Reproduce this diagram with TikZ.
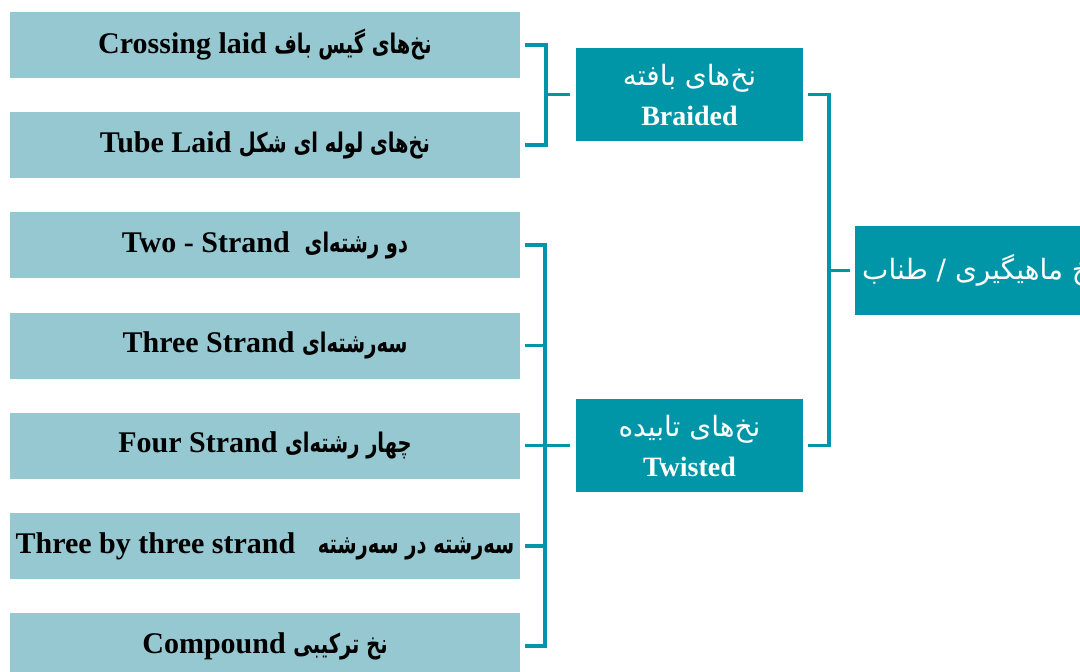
\documentclass[tikz,border=0pt]{standalone}
\usepackage{fontspec}
\setmainfont{Liberation Serif}
\newfontfamily\arabicfont[Script=Arabic]{DejaVu Sans}
\newfontfamily\arabicnarrow[Script=Arabic,FakeStretch=0.72]{DejaVu Sans}
\TeXXeTstate=1
\definecolor{tealbox}{RGB}{0,150,167}
\definecolor{lightbox}{RGB}{150,200,209}
\newcommand{\fa}[1]{{\arabicfont\beginR #1\endR}}
\newcommand{\fanarrow}[1]{{\arabicnarrow\fontsize{27}{30}\selectfont\beginR #1\endR}}

\begin{document}
\begin{tikzpicture}[x=1pt,y=-1pt,
	kind/.style={fill=lightbox,minimum width=510pt,minimum height=66pt,inner sep=0pt,font=\fontsize{30}{36}\selectfont\bfseries},
	group/.style={fill=tealbox,text=white,minimum width=227pt,minimum height=93pt,inner sep=0pt,align=center,font=\fontsize{28}{40}\selectfont},
	link/.style={draw=tealbox,line width=3.5pt}]
			\useasboundingbox (0,0) rectangle (1080,672);
			\node [kind] (crossing) at (265,45) {Crossing laid \fanarrow{نخ‌های گیس باف}};
			\node [kind] (tube) at (265,145) {Tube Laid \fanarrow{نخ‌های لوله ای شکل}};
			\node [kind] (two) at (265,245) {Two - Strand~~\fanarrow{دو رشته‌ای}};
			\node [kind] (three) at (265,345.5) {Three Strand \fanarrow{سه‌رشته‌ای}};
			\node [kind] (four) at (265,445.5) {Four Strand \fanarrow{چهار رشته‌ای}};
			\node [kind] (nine) at (265,546) {Three by three strand~~~\fanarrow{سه‌رشته در سه‌رشته}};
			\node [kind] (compound) at (265,646) {Compound \fanarrow{نخ ترکیبی}};
			\node [group] (braided) at (689.5,94.5) {\fa{نخ‌های بافته}\\\textbf{Braided}};
			\node [group] (twisted) at (689.5,445.5) {\fa{نخ‌های تابیده}\\\textbf{Twisted}};
			\node [group,minimum width=250pt,minimum height=89pt] (rope) at (980,270.5) {\fa{نخ ماهیگیری / طناب}};
			\coordinate (bb) at ([xshift=-30pt]braided.west);
			\coordinate (tb) at ([xshift=-31pt]twisted.west);
			\coordinate (rb) at ([xshift=26pt]braided.east);
			\draw [link] ([xshift=5pt]crossing.east) -| (bb) |- ([xshift=5pt]tube.east);
			\draw [link] (bb) -- ([xshift=-6pt]braided.west);
			\draw [link] ([xshift=5pt]two.east) -| (tb |- compound.east) -- ([xshift=5pt]compound.east);
			\foreach \n in {three,four,nine}
				\draw [link] ([xshift=5pt]\n.east) -- (tb |- \n.east);
			\draw [link] (tb |- twisted.west) -- ([xshift=-6pt]twisted.west);
			\draw [link] ([xshift=5pt]braided.east) -| (rb |- twisted.east) -- ([xshift=5pt]twisted.east);
			\draw [link] (rb |- rope.west) -- ([xshift=-5pt]rope.west);
		\end{tikzpicture}
\end{document}
